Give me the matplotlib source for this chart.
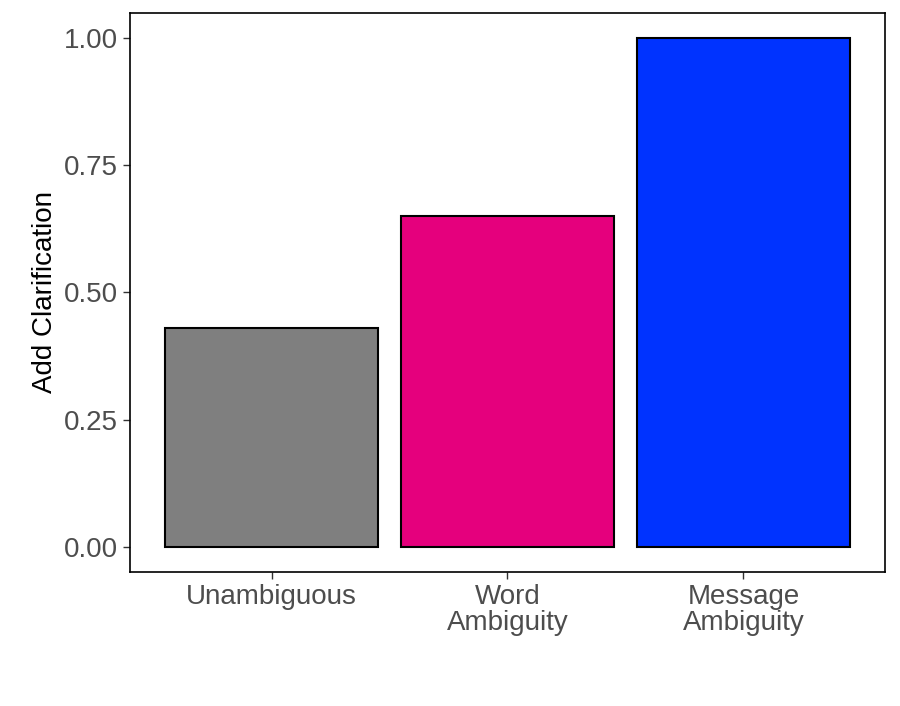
import matplotlib
matplotlib.use('Agg')
import matplotlib.pyplot as plt

categories = ['Unambiguous', 'Word\nAmbiguity', 'Message\nAmbiguity']
values = [0.43, 0.65, 1.00]
colors = ['#7F7F7F', '#E5007D', '#0033FF']
yticks = [0.00, 0.25, 0.50, 0.75, 1.00]

plt.rcParams['font.family'] = ['Liberation Sans', 'DejaVu Sans']

fig = plt.figure(figsize=(9, 7.06), dpi=100)
ax = fig.add_axes([0.1444, 0.1898, 0.8389, 0.7918])
xs = range(1, len(categories) + 1)
ax.bar(xs, values, width=0.9, color=colors, edgecolor='black', linewidth=1.5)
ax.set_xlim(0.4, 3.6)
ax.set_ylim(-0.05, 1.05)
ax.set_xticks(list(xs))
ax.set_xticklabels(categories, fontsize=20, color='#4D4D4D', linespacing=1.0)
ax.set_yticks(yticks)
ax.set_yticklabels([f'{t:.2f}' for t in yticks], fontsize=20, color='#4D4D4D')
ax.set_ylabel('Add Clarification', fontsize=20, color='black')
for s in ax.spines.values():
    s.set_linewidth(1.2)
ax.tick_params(length=5, width=1.0, color='#333333')
fig.savefig('out.png', dpi=100)
